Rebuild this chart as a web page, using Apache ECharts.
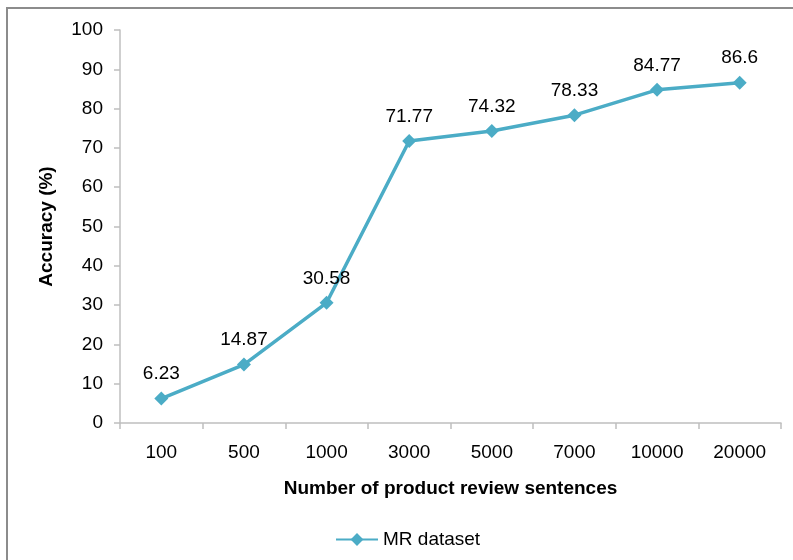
<!DOCTYPE html>
<html>
<head>
<meta charset="utf-8">
<script src="https://cdn.jsdelivr.net/npm/echarts@6/dist/echarts.min.js"></script>
<style>
  html, body { margin: 0; padding: 0; background: #fff; }
  #chart { width: 793px; height: 560px; }
</style>
</head>
<body>
<div id="chart"></div>
<script>
// Review-set sizes and the accuracy reached at each
const categories = ['100', '500', '1000', '3000', '5000', '7000', '10000', '20000'];
const accuracy = [6.23, 14.87, 30.58, 71.77, 74.32, 78.33, 84.77, 86.6];
const seriesName = 'MR dataset';

const FONT = '"Liberation Sans", Arial, sans-serif';
const FS = 19;
const LINE_COLOR = '#4BACC6';
const AXIS_COLOR = '#BFBFBF';

const chart = echarts.init(document.getElementById('chart'), null, { renderer: 'canvas' });

chart.setOption({
  backgroundColor: '#fff',
  animation: false,
  textStyle: { fontFamily: FONT },
  grid: { left: 120, right: 12, top: 30, bottom: 137 },
  graphic: [
    // partial frame: left and top edges
    { type: 'line', shape: { x1: 7, y1: 8, x2: 7, y2: 560 }, style: { stroke: '#8C8C8C', lineWidth: 2 } },
    { type: 'line', shape: { x1: 6, y1: 8, x2: 793, y2: 8 }, style: { stroke: '#8C8C8C', lineWidth: 2 } }
  ],
  legend: {
    data: [seriesName],
    bottom: 6,
    left: 330,
    itemWidth: 42,
    itemHeight: 16,
    itemGap: 6,
    textStyle: { fontSize: FS, color: '#000', fontFamily: FONT }
  },
  xAxis: {
    type: 'category',
    data: categories,
    boundaryGap: true,
    name: 'Number of product review sentences',
    nameLocation: 'middle',
    nameGap: 56,
    nameTextStyle: { fontSize: FS, fontWeight: 'bold', color: '#000', fontFamily: FONT },
    axisLine: { lineStyle: { color: AXIS_COLOR, width: 1.5 } },
    axisTick: { show: true, inside: false, length: 6, alignWithLabel: false, lineStyle: { color: AXIS_COLOR, width: 1.5 } },
    axisLabel: { fontSize: FS, color: '#000', margin: 20, fontFamily: FONT },
    splitLine: { show: false }
  },
  yAxis: {
    type: 'value',
    min: 0,
    max: 100,
    interval: 10,
    name: 'Accuracy (%)',
    nameLocation: 'middle',
    nameGap: 64,
    nameRotate: 90,
    nameTextStyle: { fontSize: FS, fontWeight: 'bold', color: '#000', fontFamily: FONT },
    axisLine: { show: true, lineStyle: { color: AXIS_COLOR, width: 1.5 } },
    axisTick: { show: true, length: 6, lineStyle: { color: AXIS_COLOR, width: 1.5 } },
    axisLabel: { fontSize: FS, color: '#000', margin: 17, fontFamily: FONT },
    splitLine: { show: false }
  },
  series: [{
    name: seriesName,
    type: 'line',
    data: accuracy,
    symbol: 'diamond',
    symbolSize: 14,
    lineStyle: { color: LINE_COLOR, width: 3.5 },
    itemStyle: { color: LINE_COLOR },
    label: {
      show: true,
      position: 'top',
      distance: 8,
      fontSize: FS,
      color: '#000',
      fontFamily: FONT
    }
  }]
});
</script>
</body>
</html>
